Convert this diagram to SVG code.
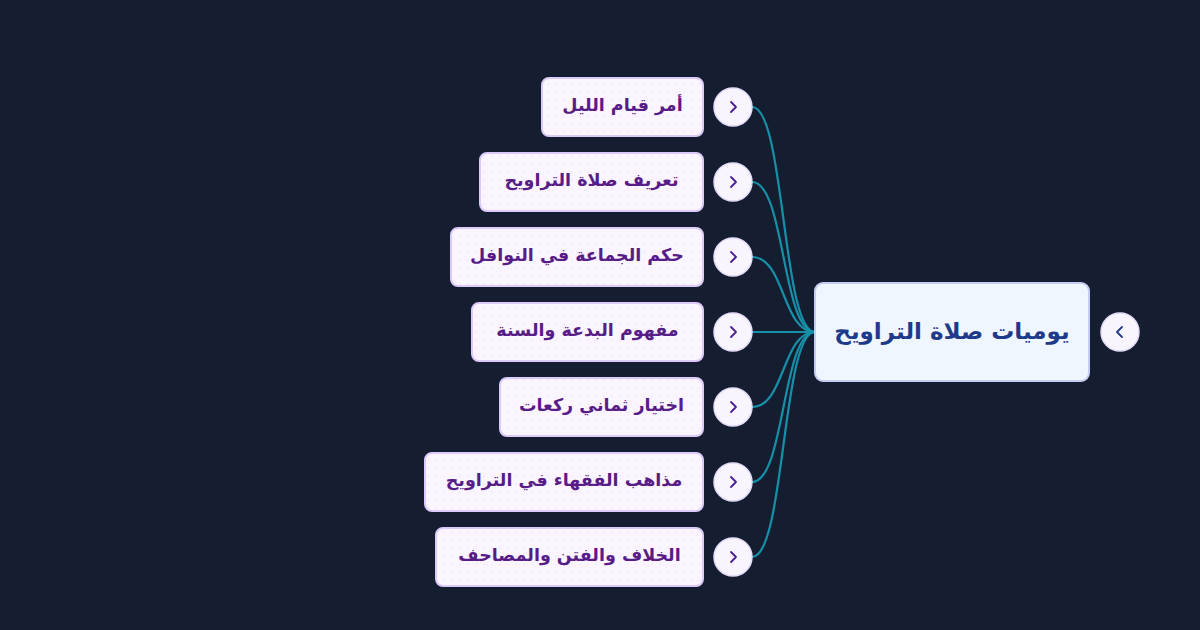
<svg xmlns="http://www.w3.org/2000/svg" width="1200" height="630" viewBox="0 0 1200 630">
<defs>
<pattern id="dots" width="8" height="8" patternUnits="userSpaceOnUse">
<rect width="8" height="8" fill="#faf5ff"/>
<circle cx="4" cy="4" r="0.6" fill="#ddd6fe"/>
</pattern>
<style>
.child rect.box{fill:url(#dots);stroke:#dccbfa;stroke-width:2}
.child text{font-family:"DejaVu Sans",sans-serif;font-weight:bold;font-size:17.5px;fill:#581c87;text-anchor:middle}
.btn circle{fill:#f8f5ff;stroke:#e4dcfb;stroke-width:1.5}
.btn path{fill:none;stroke:#4c1d95;stroke-width:1.8;stroke-linecap:round;stroke-linejoin:round}
.conn path{fill:none;stroke:#1690a8;stroke-width:2.2}
</style>
</defs>
<rect width="1200" height="630" fill="#151d30"/>
<g id="connectors" class="conn">
<path d="M752,107 C785,107 782,332 815,332"/>
<path d="M752,182 C785,182 782,332 815,332"/>
<path d="M752,257 C785,257 782,332 815,332"/>
<path d="M752,332 L815,332"/>
<path d="M752,407 C785,407 782,332 815,332"/>
<path d="M752,482 C785,482 782,332 815,332"/>
<path d="M752,557 C785,557 782,332 815,332"/>
</g>
<g id="root">
<rect x="815" y="283" width="274" height="98" rx="8" fill="#eff6ff" stroke="#c3cdf5" stroke-width="2"/>
<text x="952" y="339" font-family="DejaVu Sans, sans-serif" font-weight="bold" font-size="23" fill="#1e3a8a" text-anchor="middle">يوميات صلاة التراويح</text>
<g class="btn"><circle cx="1120" cy="332" r="19"/><path d="M1122,327 L1117,332 L1122,337" style="stroke:#1e3a8a"/></g>
</g>
<g id="n1" class="child"><rect class="box" x="542" y="78" width="161" height="58" rx="7"/><text x="622.5" y="111">أمر قيام الليل</text><g class="btn"><circle cx="733" cy="107" r="19"/><path d="M731,102 L736,107 L731,112"/></g></g>
<g id="n2" class="child"><rect class="box" x="480" y="153" width="223" height="58" rx="7"/><text x="591.5" y="186">تعريف صلاة التراويح</text><g class="btn"><circle cx="733" cy="182" r="19"/><path d="M731,177 L736,182 L731,187"/></g></g>
<g id="n3" class="child"><rect class="box" x="451" y="228" width="252" height="58" rx="7"/><text x="577" y="261">حكم الجماعة في النوافل</text><g class="btn"><circle cx="733" cy="257" r="19"/><path d="M731,252 L736,257 L731,262"/></g></g>
<g id="n4" class="child"><rect class="box" x="472" y="303" width="231" height="58" rx="7"/><text x="587.5" y="336">مفهوم البدعة والسنة</text><g class="btn"><circle cx="733" cy="332" r="19"/><path d="M731,327 L736,332 L731,337"/></g></g>
<g id="n5" class="child"><rect class="box" x="500" y="378" width="203" height="58" rx="7"/><text x="601.5" y="411">اختيار ثماني ركعات</text><g class="btn"><circle cx="733" cy="407" r="19"/><path d="M731,402 L736,407 L731,412"/></g></g>
<g id="n6" class="child"><rect class="box" x="425" y="453" width="278" height="58" rx="7"/><text x="564" y="486">مذاهب الفقهاء في التراويح</text><g class="btn"><circle cx="733" cy="482" r="19"/><path d="M731,477 L736,482 L731,487"/></g></g>
<g id="n7" class="child"><rect class="box" x="436" y="528" width="267" height="58" rx="7"/><text x="569.5" y="561">الخلاف والفتن والمصاحف</text><g class="btn"><circle cx="733" cy="557" r="19"/><path d="M731,552 L736,557 L731,562"/></g></g>
</svg>
